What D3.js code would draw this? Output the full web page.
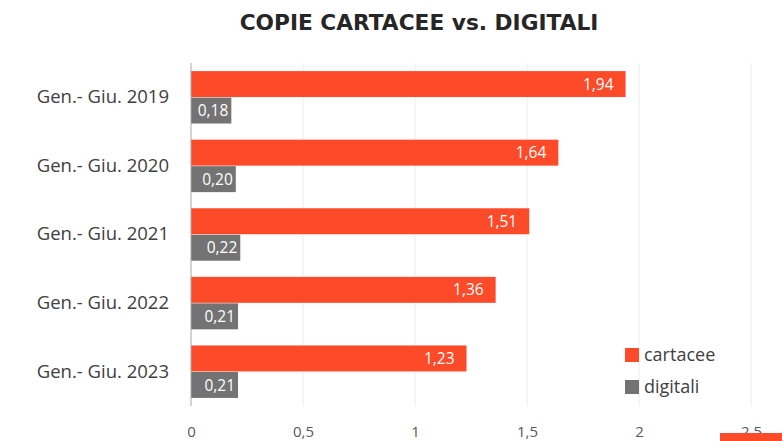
<!DOCTYPE html>
<html>
<head>
<meta charset="utf-8">
<script src="https://cdn.jsdelivr.net/npm/d3@7"></script>
<style>
  body { margin: 0; background: #fff; }
  text { font-family: "Open Sans", "Noto Sans", sans-serif; }
</style>
</head>
<body>
<script>
var categories = ["Gen.- Giu. 2019", "Gen.- Giu. 2020", "Gen.- Giu. 2021", "Gen.- Giu. 2022", "Gen.- Giu. 2023"];
var series = ["cartacee", "digitali"];
var cartacee = [1.94, 1.64, 1.51, 1.36, 1.23];
var digitali = [0.18, 0.20, 0.22, 0.21, 0.21];
var xTicks = [0, 0.5, 1, 1.5, 2, 2.5];

var colors = { cartacee: "#fd4a29", digitali: "#737373" };

var W = 782, H = 441;
var margin = { top: 63, right: 0, bottom: 35, left: 191 },
    width = W - margin.left - margin.right,
    height = H - margin.top - margin.bottom;

var fmt = function(v){ return v.toFixed(2).replace(".", ","); };

var rows = categories.map(function(c, i){
    return { name: c, cartacee: cartacee[i], digitali: digitali[i] };
});

var svg = d3.select("body")
            .append("svg")
            .attr('width', W)
            .attr('height', H);

svg.append("text")
   .attr('x', 419)
   .attr('y', 30)
   .attr('text-anchor', "middle")
   .style('font-family', "'Century Gothic', 'DejaVu Sans', sans-serif")
   .style('font-weight', "bold")
   .style('font-size', "21.7px")
   .attr('fill', "#262626")
   .text("COPIE CARTACEE vs. DIGITALI");

var g = svg.append("g")
           .attr('transform', "translate(" + margin.left + "," + margin.top + ")");

var xScale = d3.scaleLinear()
               .domain([0, 2.5])
               .range([0, 560]);

var yScale = d3.scaleBand()
               .domain(categories)
               .range([0, height])
               .paddingInner(0.22)
               .paddingOuter(0.11);

var ySub = d3.scaleBand()
             .domain(series)
             .range([0, yScale.bandwidth()])
             .padding(0.02);

// grid
g.selectAll("line.grid")
 .data(xTicks.slice(1))
 .enter()
 .append("line")
 .attr('class', "grid")
 .attr('x1', function(d){ return xScale(d); })
 .attr('x2', function(d){ return xScale(d); })
 .attr('y1', 0)
 .attr('y2', height)
 .attr('stroke', "#ececec")
 .attr('stroke-width', 1);

var groups = g.selectAll("g.cat")
              .data(rows)
              .enter()
              .append("g")
              .attr('class', "cat")
              .attr('transform', function(d){ return "translate(0," + yScale(d.name) + ")"; });

groups.selectAll("rect")
      .data(function(d){ return series.map(function(s){ return { key: s, value: d[s] }; }); })
      .enter()
      .append("rect")
      .attr('x', xScale(0))
      .attr('y', function(d){ return ySub(d.key); })
      .attr('width', function(d){ return xScale(d.value) - xScale(0); })
      .attr('height', ySub.bandwidth())
      .attr('fill', function(d){ return colors[d.key]; });

groups.selectAll("text.value")
      .data(function(d){ return series.map(function(s){ return { key: s, value: d[s] }; }); })
      .enter()
      .append("text")
      .attr('class', "value")
      .attr('y', function(d){ return ySub(d.key) + ySub.bandwidth() / 2; })
      .attr('dy', "0.36em")
      .attr('text-anchor', "end")
      .attr('fill', "#ffffff")
      .style('font-size', "15.5px")
      .text(function(d){ return fmt(d.value); })
      .attr('x', function(d){
          var w = this.getComputedTextLength();
          var end = xScale(d.value) - (d.key === "cartacee" ? 12 : 3);
          return Math.max(end, xScale(0) + w);
      });

// y axis line
g.append("line")
 .attr('x1', 0).attr('x2', 0)
 .attr('y1', 0).attr('y2', height)
 .attr('stroke', "#a6a6a6")
 .attr('stroke-width', 1);

var yAxis = d3.axisLeft(yScale).tickSize(0).tickPadding(22);
g.append("g")
 .call(yAxis)
 .call(function(s){ s.select(".domain").remove(); })
 .selectAll("text")
 .style('font-family', "'Open Sans', sans-serif")
 .style('font-size', "18.5px")
 .attr('fill', "#404040");

var xAxis = d3.axisBottom(xScale)
              .tickValues(xTicks)
              .tickSize(0)
              .tickPadding(20)
              .tickFormat(function(d){ return String(d).replace(".", ","); });
g.append("g")
 .attr('transform', "translate(0," + height + ")")
 .call(xAxis)
 .call(function(s){ s.select(".domain").remove(); })
 .selectAll("text")
 .style('font-family', "'Open Sans', sans-serif")
 .style('font-size', "15px")
 .attr('fill', "#595959");

// legend
var legend = svg.append("g")
                .attr('transform', "translate(625,348)");
var li = legend.selectAll("g")
               .data(series)
               .enter()
               .append("g")
               .attr('transform', function(d, i){ return "translate(0," + (i * 32) + ")"; });
li.append("rect")
  .attr('width', 14)
  .attr('height', 14)
  .attr('fill', function(d){ return colors[d]; });
li.append("text")
  .attr('x', 19)
  .attr('y', 7)
  .attr('dy', "0.36em")
  .style('font-size', "18px")
  .attr('fill', "#404040")
  .text(function(d){ return d; });

// cropped edge of a neighbouring shape
svg.append("rect")
   .attr('x', W - 62)
   .attr('y', H - 8)
   .attr('width', 62)
   .attr('height', 8)
   .attr('fill', colors.cartacee);
</script>
</body>
</html>
